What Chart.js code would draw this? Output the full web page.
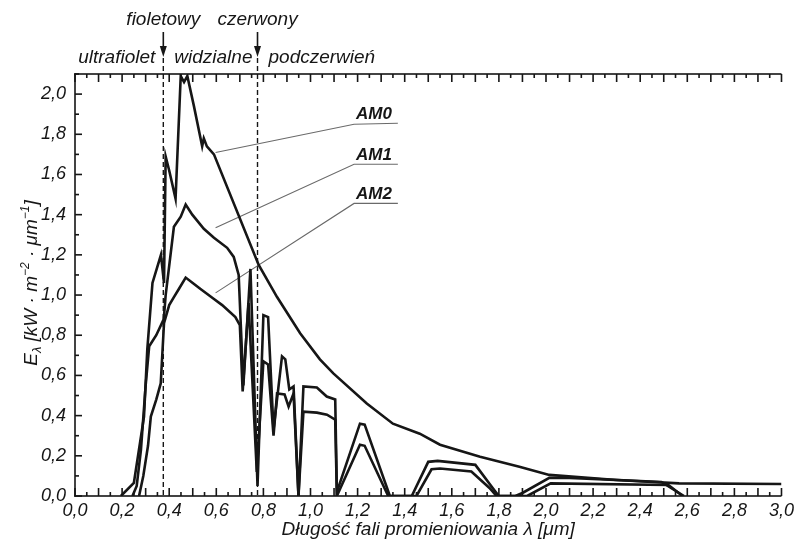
<!DOCTYPE html>
<html>
<head>
<meta charset="utf-8">
<script src="https://cdn.jsdelivr.net/npm/chart.js"></script>
<style>
  body { margin: 0; background: #fff; }
  #wrap { width: 798px; height: 547px; }
</style>
</head>
<body>
<div id="wrap"><canvas id="chart"></canvas></div>
<script>
'use strict';
// wavelength [um] and spectral irradiance [kW m-2 um-1]
let am0Wave = [0.195, 0.25, 0.293, 0.307, 0.329, 0.365, 0.378, 0.385, 0.40, 0.427, 0.449, 0.463, 0.477, 0.505, 0.54, 0.547, 0.56, 0.59, 0.78, 0.858, 0.956, 1.04, 1.097, 1.239, 1.35, 1.464, 1.55, 1.72, 1.887, 2.014, 2.3, 2.565, 3.0];
let am0Value = [0, 0.065, 0.395, 0.73, 1.06, 1.2, 1.06, 1.69, 1.62, 1.48, 2.09, 2.06, 2.09, 1.94, 1.74, 1.78, 1.74, 1.70, 1.15, 0.99, 0.81, 0.68, 0.61, 0.46, 0.36, 0.31, 0.255, 0.195, 0.146, 0.105, 0.08, 0.063, 0.06];

let am1Wave = [0.244, 0.262, 0.28, 0.30, 0.315, 0.345, 0.377, 0.385, 0.42, 0.449, 0.47, 0.498, 0.547, 0.59, 0.646, 0.674, 0.695, 0.715, 0.745, 0.775, 0.80, 0.82, 0.843, 0.879, 0.893, 0.91, 0.928, 0.949, 0.97, 1.027, 1.069, 1.105, 1.112, 1.21, 1.23, 1.337, 1.43, 1.50, 1.54, 1.70, 1.78, 1.80, 1.87, 1.90, 2.014, 2.1, 2.49, 2.586];
let am1Value = [0, 0.05, 0.23, 0.55, 0.745, 0.8, 0.88, 1.0, 1.34, 1.39, 1.45, 1.40, 1.33, 1.285, 1.235, 1.19, 1.10, 0.55, 1.13, 0.05, 0.90, 0.89, 0.33, 0.695, 0.68, 0.53, 0.545, 0, 0.545, 0.54, 0.495, 0.48, 0.02, 0.36, 0.355, 0, 0, 0.17, 0.175, 0.155, 0.03, 0, 0, 0.015, 0.09, 0.09, 0.07, 0];

let am2Wave = [0.272, 0.29, 0.31, 0.322, 0.345, 0.364, 0.378, 0.40, 0.42, 0.441, 0.47, 0.50, 0.533, 0.59, 0.625, 0.681, 0.70, 0.712, 0.737, 0.772, 0.80, 0.82, 0.843, 0.858, 0.89, 0.907, 0.928, 0.949, 0.97, 1.027, 1.07, 1.105, 1.112, 1.21, 1.23, 1.33, 1.45, 1.514, 1.55, 1.683, 1.76, 1.79, 1.92, 2.02, 2.52, 2.58];
let am2Value = [0, 0.1, 0.25, 0.395, 0.48, 0.56, 0.86, 0.95, 0.99, 1.03, 1.087, 1.06, 1.03, 0.98, 0.95, 0.89, 0.85, 0.52, 0.96, 0.12, 0.67, 0.655, 0.30, 0.51, 0.505, 0.445, 0.51, 0, 0.42, 0.415, 0.405, 0.38, 0, 0.255, 0.25, 0, 0, 0.133, 0.137, 0.122, 0.04, 0, 0, 0.063, 0.055, 0];

let seriesNames = ['AM0', 'AM1', 'AM2'];
// leader lines from each curve to its name (wavelength, irradiance)
let leaderWave = [0.597, 1.185, 1.371];
let leaderAM0 = [1.709, 1.850, 1.855];
let leaderAM1 = [1.335, 1.651, 1.651];
let leaderAM2 = [1.011, 1.456, 1.456];

let bandEdges = [0.375, 0.775];
let edgeNames = ['fioletowy', 'czerwony'];
let bandNames = ['ultrafiolet', 'widzialne', 'podczerwień'];

let FONT = '"Liberation Sans", Arial, sans-serif';
let INK = '#161616';

function pts(xs, ys) {
  return xs.map((v, i) => ({ x: v, y: ys[i] }));
}
function comma(v) {
  return v.toFixed(1).replace('.', ',');
}

let decor = {
  id: 'decor',
  beforeDatasetsDraw(chart) {
    let c = chart.ctx;
    let a = chart.chartArea;
    let x = chart.scales.x;
    c.save();
    c.strokeStyle = INK;
    c.fillStyle = INK;
    // band edges: dashed lines with arrows
    c.lineWidth = 1.4;
    c.setLineDash([5, 3]);
    c.beginPath();
    bandEdges.forEach(e => {
      let px = x.getPixelForValue(e);
      c.moveTo(px, 58);
      c.lineTo(px, a.bottom);
    });
    c.stroke();
    c.setLineDash([]);
    bandEdges.forEach(e => {
      let px = x.getPixelForValue(e);
      c.fillRect(px - 0.8, 32, 1.6, 15);
      c.beginPath();
      c.moveTo(px - 3.5, 46);
      c.lineTo(px + 3.5, 46);
      c.lineTo(px, 57);
      c.closePath();
      c.fill();
    });
    c.restore();
  },
  afterDraw(chart) {
    let c = chart.ctx;
    let a = chart.chartArea;
    let x = chart.scales.x;
    let y = chart.scales.y;
    c.save();
    c.fillStyle = INK;

    // frame: left, bottom, top (no right side)
    c.fillRect(a.left - 0.8, a.top - 0.8, a.right - a.left + 0.8, 1.6);
    c.fillRect(a.left - 0.8, a.bottom - 0.8, a.right - a.left + 0.8, 1.6);
    c.fillRect(a.left - 0.8, a.top - 0.8, 1.6, a.bottom - a.top + 1.6);

    // inward ticks: x every 0.05, y every 0.1
    for (let i = 0; i <= 60; i++) {
      let px = x.getPixelForValue(i / 20);
      let len = (i % 2) ? 4 : 8;
      c.fillRect(px - 0.8, a.bottom - len, 1.6, len);
      c.fillRect(px - 0.8, a.top, 1.6, len);
    }
    for (let i = 0; i <= 21; i++) {
      let py = y.getPixelForValue(i / 10);
      let len = (i % 2) ? 4 : 7;
      c.fillRect(a.left, py - 0.8, len, 1.6);
    }

    c.font = 'italic 19px ' + FONT;
    c.textBaseline = 'alphabetic';
    c.textAlign = 'center';
    edgeNames.forEach((n, i) => {
      c.fillText(n, x.getPixelForValue(bandEdges[i]), 25);
    });
    let e0 = x.getPixelForValue(bandEdges[0]);
    let e1 = x.getPixelForValue(bandEdges[1]);
    c.textAlign = 'right';
    c.fillText(bandNames[0], e0 - 8, 63);
    c.textAlign = 'left';
    c.fillText(bandNames[1], e0 + 11, 63);
    c.fillText(bandNames[2], e1 + 11, 63);

    // series names above the leader lines
    c.font = 'bold italic 17px ' + FONT;
    c.textAlign = 'center';
    let lx = (x.getPixelForValue(leaderWave[1]) + x.getPixelForValue(leaderWave[2])) / 2;
    [leaderAM0, leaderAM1, leaderAM2].forEach((l, i) => {
      c.fillText(seriesNames[i], lx - 2, y.getPixelForValue(l[2]) - 4);
    });

    // y axis title with sub/superscripts
    let parts = [
      ['E', 0, 19], ['λ', 4, 13], [' [kW · m', 0, 19], ['−2', -8, 12],
      [' · μm', 0, 19], ['−1', -8, 12], [']', 0, 19]
    ];
    let total = 0;
    parts.forEach(p => {
      c.font = 'italic ' + p[2] + 'px ' + FONT;
      total += c.measureText(p[0]).width;
    });
    c.translate(30, 283);
    c.rotate(-Math.PI / 2);
    c.textAlign = 'left';
    let cx = -total / 2;
    parts.forEach(p => {
      c.font = 'italic ' + p[2] + 'px ' + FONT;
      c.fillText(p[0], cx, 7 + p[1]);
      cx += c.measureText(p[0]).width;
    });
    c.restore();
  }
};

let lineStyle = {
  showLine: true,
  pointRadius: 0,
  borderColor: INK,
  borderWidth: 2.6,
  tension: 0,
  fill: false
};
let leaderStyle = {
  showLine: true,
  pointRadius: 0,
  borderColor: '#6a6a6a',
  borderWidth: 1.1,
  tension: 0,
  fill: false
};

let ctx = document.getElementById('chart').getContext('2d');
let myChart = new Chart(ctx, {
  type: 'scatter',
  data: {
    datasets: [
      Object.assign({ label: 'AM0', data: pts(am0Wave, am0Value) }, lineStyle),
      Object.assign({ label: 'AM1', data: pts(am1Wave, am1Value) }, lineStyle),
      Object.assign({ label: 'AM2', data: pts(am2Wave, am2Value) }, lineStyle),
      Object.assign({ label: 'l0', data: pts(leaderWave, leaderAM0) }, leaderStyle),
      Object.assign({ label: 'l1', data: pts(leaderWave, leaderAM1) }, leaderStyle),
      Object.assign({ label: 'l2', data: pts(leaderWave, leaderAM2) }, leaderStyle)
    ]
  },
  options: {
    responsive: true,
    maintainAspectRatio: false,
    animation: false,
    devicePixelRatio: 1,
    layout: { padding: { left: 0, top: 74, right: 15, bottom: 0 } },
    plugins: {
      legend: { display: false },
      tooltip: { enabled: false }
    },
    scales: {
      x: {
        type: 'linear',
        min: 0,
        max: 3,
        afterFit: s => { s.height = 51; },
        grid: { display: false, drawTicks: false, tickLength: 0 },
        border: { display: false },
        ticks: {
          stepSize: 0.2,
          includeBounds: false,
          padding: 4,
          color: INK,
          font: { family: FONT, size: 18, style: 'italic' },
          callback: v => comma(v)
        },
        title: {
          display: true,
          text: 'Długość fali promieniowania λ [μm]',
          color: INK,
          font: { family: FONT, size: 19, style: 'italic' },
          padding: { top: 0, bottom: 6 }
        }
      },
      y: {
        min: 0,
        max: 2.1,
        afterFit: s => { s.width = 75; },
        grid: { display: false, drawTicks: false, tickLength: 0 },
        border: { display: false },
        ticks: {
          stepSize: 0.2,
          includeBounds: false,
          padding: 9,
          color: INK,
          font: { family: FONT, size: 18, style: 'italic' },
          callback: v => comma(v)
        }
      }
    }
  },
  plugins: [decor]
});
</script>
</body>
</html>
